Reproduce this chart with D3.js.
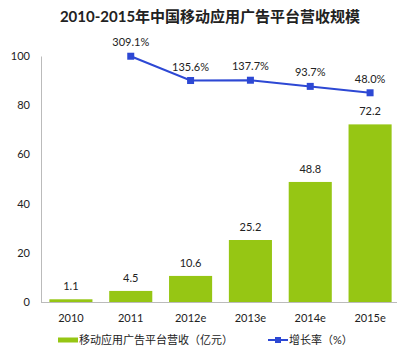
<!DOCTYPE html>
<html>
<head>
<meta charset="utf-8">
<script src="https://cdn.jsdelivr.net/npm/d3@7"></script>
<style>
  body { margin: 0; background: #fff; }
  text { font-family: "Lato", "Noto Sans CJK SC", sans-serif; fill: #222; }
</style>
</head>
<body>
<div id="chart"></div>
<script>
const years = ["2010", "2011", "2012e", "2013e", "2014e", "2015e"];
const revenue = [1.1, 4.5, 10.6, 25.2, 48.8, 72.2];
const growthYears = ["2011", "2012e", "2013e", "2014e", "2015e"];
const growth = [309.1, 135.6, 137.7, 93.7, 48.0];
const yTicks = [0, 20, 40, 60, 80, 100];

const width = 400;
const height = 352;
const marginLeft = 41;
const marginRight = 0;
const y0 = 302;
const yTop = 56;

const barColor = "#96c614";
const lineColor = "#2d48d4";

const svg = d3.select("#chart").append("svg")
  .attr("width", width)
  .attr("height", height);

// title
svg.append("text")
  .attr("x", 210)
  .attr("y", 22)
  .attr("text-anchor", "middle")
  .attr("font-size", 15)
  .attr("font-weight", "bold")
  .text("2010-2015年中国移动应用广告平台营收规模");

const x = d3.scaleBand()
  .domain(years)
  .range([marginLeft, width - marginRight])
  .paddingInner(0.28)
  .paddingOuter(0.14);

const y = d3.scaleLinear()
  .domain([0, 100])
  .range([y0, yTop]);

// secondary scale for growth line (hidden axis)
const y2 = d3.scaleLinear()
  .domain([0, 350])
  .range([99.5, 50.5]);

// y axis
const yAxis = svg.append("g")
  .attr("transform", `translate(${marginLeft},0)`)
  .call(d3.axisLeft(y).tickValues(yTicks).tickSize(0).tickPadding(11));
yAxis.select(".domain").attr("stroke", "#bbb");
yAxis.selectAll("text").attr("font-size", 11).attr("fill", "#222").attr("font-family", null);

// x axis
const xAxis = svg.append("g")
  .attr("transform", `translate(0,${y0})`)
  .call(d3.axisBottom(x).tickSize(0).tickPadding(12));
xAxis.select(".domain").attr("stroke", "#bbb").attr("d", `M${marginLeft},0.5H397`);
xAxis.selectAll("text").attr("font-size", 11).attr("fill", "#222").attr("font-family", null);

// bars
svg.append("g")
  .selectAll("rect")
  .data(years)
  .join("rect")
  .attr("x", d => x(d))
  .attr("y", (d, i) => y(revenue[i]))
  .attr("width", x.bandwidth())
  .attr("height", (d, i) => y0 - y(revenue[i]))
  .attr("fill", barColor);

svg.append("g")
  .attr("text-anchor", "middle")
  .attr("font-size", 11)
  .selectAll("text")
  .data(years)
  .join("text")
  .attr("x", d => x(d) + x.bandwidth() / 2)
  .attr("y", (d, i) => y(revenue[i]) - 9)
  .text((d, i) => revenue[i].toFixed(1));

// growth line
const cx = d => x(d) + x.bandwidth() / 2;
const line = d3.line()
  .x(d => cx(d))
  .y((d, i) => y2(growth[i]));

svg.append("path")
  .datum(growthYears)
  .attr("fill", "none")
  .attr("stroke", lineColor)
  .attr("stroke-width", 2)
  .attr("d", line);

svg.append("g")
  .selectAll("rect")
  .data(growthYears)
  .join("rect")
  .attr("x", d => cx(d) - 3.5)
  .attr("y", (d, i) => y2(growth[i]) - 3.5)
  .attr("width", 7)
  .attr("height", 7)
  .attr("fill", lineColor);

svg.append("g")
  .attr("text-anchor", "middle")
  .attr("font-size", 11)
  .selectAll("text")
  .data(growthYears)
  .join("text")
  .attr("x", d => cx(d))
  .attr("y", (d, i) => y2(growth[i]) - 10)
  .text((d, i) => growth[i].toFixed(1) + "%");

// legend
const legend = svg.append("g").attr("font-size", 11);
legend.append("rect")
  .attr("x", 58).attr("y", 337.5)
  .attr("width", 20).attr("height", 5)
  .attr("fill", barColor);
legend.append("text")
  .attr("x", 79).attr("y", 344)
  .text("移动应用广告平台营收（亿元）");

legend.append("line")
  .attr("x1", 268).attr("x2", 288)
  .attr("y1", 340).attr("y2", 340)
  .attr("stroke", lineColor).attr("stroke-width", 2);
legend.append("rect")
  .attr("x", 275).attr("y", 337)
  .attr("width", 6).attr("height", 6)
  .attr("fill", lineColor);
legend.append("text")
  .attr("x", 289).attr("y", 344)
  .text("增长率（%）");
</script>
</body>
</html>
